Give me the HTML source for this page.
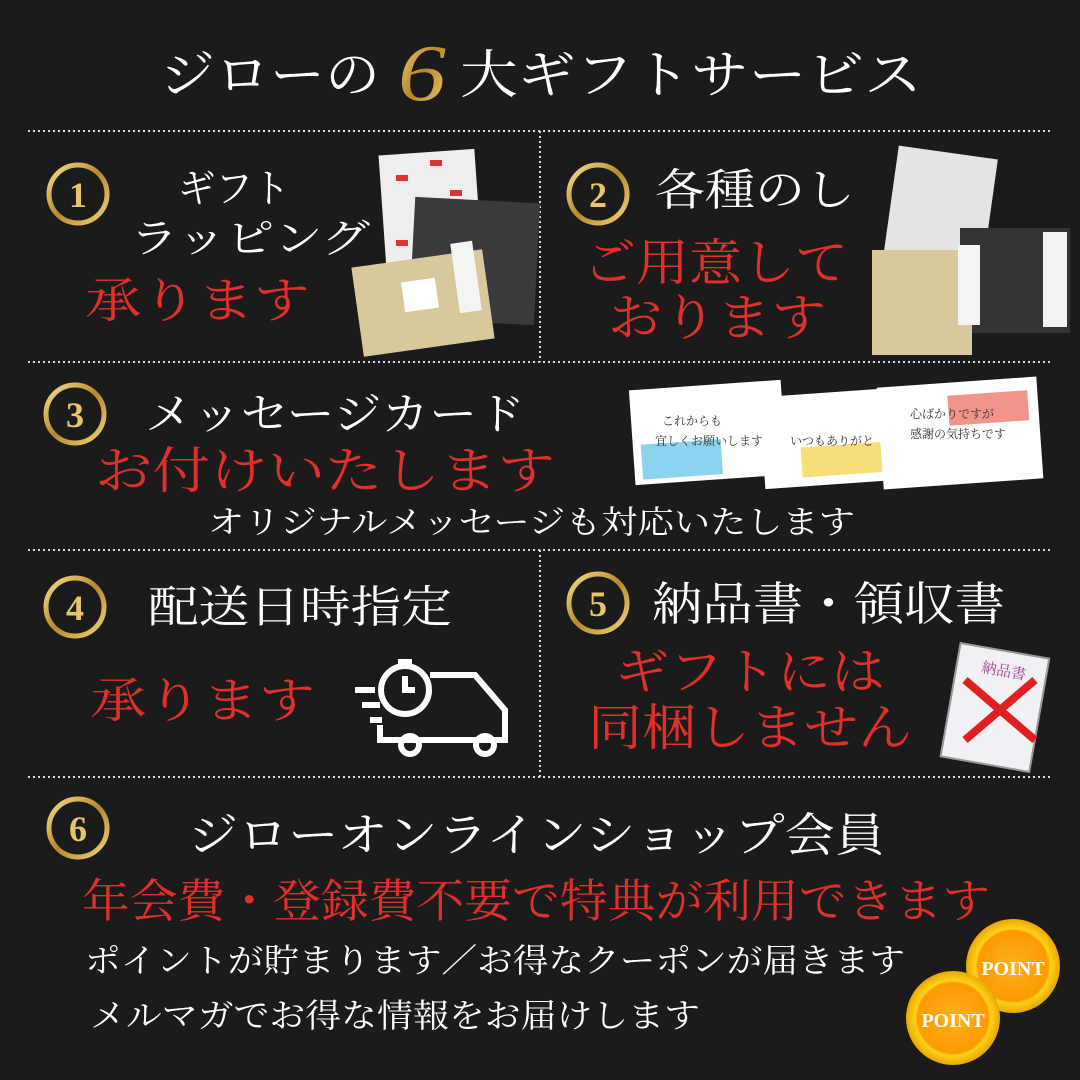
<!DOCTYPE html>
<html><head><meta charset="utf-8"><style>
html,body{margin:0;padding:0;background:#1b1b1b}
svg{display:block}
text{font-family:"Liberation Serif","Noto Serif CJK JP","Noto Serif CJK SC",serif}
</style></head><body>
<svg width="1080" height="1080" viewBox="0 0 1080 1080" xmlns="http://www.w3.org/2000/svg">
<defs>
<linearGradient id="g" x1="0" y1="0" x2="1" y2="1"><stop offset="0" stop-color="#f7e08a"/><stop offset=".5" stop-color="#b8862a"/><stop offset="1" stop-color="#f3d57a"/></linearGradient>
<radialGradient id="c" cx=".5" cy=".5" r=".5"><stop offset="0" stop-color="#ffb020"/><stop offset=".75" stop-color="#ff9a00"/><stop offset=".8" stop-color="#ffd21a"/><stop offset="1" stop-color="#e8a800"/></radialGradient>
</defs>
<rect width="1080" height="1080" fill="#1b1b1b"/>
<g stroke="#ddd" stroke-width="2" stroke-dasharray="2 3">
<line x1="28" y1="131" x2="1050" y2="131"/>
<line x1="28" y1="362" x2="1050" y2="362"/>
<line x1="28" y1="550" x2="1050" y2="550"/>
<line x1="28" y1="777" x2="1050" y2="777"/>
<line x1="540" y1="131" x2="540" y2="362"/>
<line x1="540" y1="550" x2="540" y2="777"/>
</g>
<!-- title -->
<text x="160" y="93" font-size="52" fill="#fff" textLength="220" lengthAdjust="spacingAndGlyphs">ジローの</text>
<text x="398" y="100" font-size="80" font-style="italic" fill="url(#g)" textLength="48" lengthAdjust="spacingAndGlyphs">6</text>
<text x="460" y="93" font-size="52" fill="#fff" textLength="462" lengthAdjust="spacingAndGlyphs">大ギフトサービス</text>
<!-- number circles -->
<g fill="none" stroke="url(#g)" stroke-width="5">
<circle cx="78" cy="194" r="29"/><circle cx="598" cy="194" r="29"/>
<circle cx="75" cy="414" r="29"/><circle cx="75" cy="607" r="29"/>
<circle cx="598" cy="603" r="29"/><circle cx="78" cy="828" r="29"/>
</g>
<g fill="#e9c46a" font-family="Liberation Sans,sans-serif" font-weight="bold" font-size="36" text-anchor="middle">
<text x="78" y="207">1</text><text x="598" y="207">2</text><text x="75" y="427">3</text>
<text x="75" y="620">4</text><text x="598" y="616">5</text><text x="78" y="841">6</text>
</g>
<!-- section 1 -->
<text x="178" y="202" font-size="40" fill="#fff" textLength="112" lengthAdjust="spacingAndGlyphs">ギフト</text>
<text x="130" y="252" font-size="40" fill="#fff" textLength="240" lengthAdjust="spacingAndGlyphs">ラッピング</text>
<text x="85" y="317" font-size="48" fill="#e0302a" textLength="225" lengthAdjust="spacingAndGlyphs">承ります</text>
<rect x="384" y="152" width="96" height="160" fill="#eee" transform="rotate(-4 432 232)"/>
<g fill="#d33"><rect x="396" y="175" width="12" height="6"/><rect x="430" y="160" width="12" height="6"/><rect x="418" y="200" width="12" height="6"/><rect x="396" y="240" width="12" height="6"/><rect x="450" y="190" width="12" height="6"/></g>
<rect x="412" y="200" width="125" height="122" fill="#3a3a3c" transform="rotate(3 474 261)"/>
<rect x="357" y="258" width="132" height="90" fill="#d8c89c" transform="rotate(-8 423 303)"/>
<rect x="455" y="242" width="22" height="70" fill="#f4f4f4" transform="rotate(-8 466 277)"/>
<rect x="403" y="280" width="34" height="30" fill="#fff" transform="rotate(-8 420 295)"/>
<!-- section 2 -->
<text x="655" y="205" font-size="44" fill="#fff" textLength="200" lengthAdjust="spacingAndGlyphs">各種のし</text>
<text x="583" y="280" font-size="50" fill="#e0302a" textLength="265" lengthAdjust="spacingAndGlyphs">ご用意して</text>
<text x="608" y="335" font-size="50" fill="#e0302a" textLength="218" lengthAdjust="spacingAndGlyphs">おります</text>
<rect x="890" y="152" width="100" height="120" fill="#e4e4e4" transform="rotate(8 940 212)"/>
<rect x="960" y="228" width="110" height="105" fill="#333"/>
<rect x="1043" y="232" width="24" height="95" fill="#f2f2f2"/>
<rect x="872" y="250" width="100" height="105" fill="#d8c89c"/>
<rect x="958" y="245" width="22" height="80" fill="#f4f4f4"/>
<!-- section 3 -->
<text x="145" y="429" font-size="44" fill="#fff" textLength="380" lengthAdjust="spacingAndGlyphs">メッセージカード</text>
<text x="95" y="488" font-size="50" fill="#e0302a" textLength="460" lengthAdjust="spacingAndGlyphs">お付けいたします</text>
<text x="208" y="533" font-size="32" fill="#fff" textLength="647" lengthAdjust="spacingAndGlyphs">オリジナルメッセージも対応いたします</text>
<g font-size="12" fill="#333">
<rect x="632" y="385" width="152" height="95" fill="#fff" transform="rotate(-4 708 432)"/>
<rect x="640" y="440" width="80" height="35" fill="#5bc0e8" opacity=".7" transform="rotate(-4 708 432)"/>
<text x="662" y="425">これからも</text><text x="655" y="445">宜しくお願いします</text>
<rect x="762" y="392" width="150" height="92" fill="#fff" transform="rotate(-4 837 438)"/>
<rect x="800" y="445" width="90" height="30" fill="#f4d03f" opacity=".7" transform="rotate(-4 837 438)"/>
<text x="790" y="445">いつもありがと</text>
<rect x="880" y="382" width="160" height="102" fill="#fff" transform="rotate(-4 960 433)"/>
<rect x="950" y="395" width="80" height="30" fill="#e74c3c" opacity=".6" transform="rotate(-4 960 433)"/>
<text x="910" y="418">心ばかりですが</text><text x="910" y="438">感謝の気持ちです</text>
</g>
<!-- section 4 -->
<text x="148" y="622" font-size="44" fill="#fff" textLength="304" lengthAdjust="spacingAndGlyphs">配送日時指定</text>
<text x="90" y="717" font-size="48" fill="#e0302a" textLength="225" lengthAdjust="spacingAndGlyphs">承ります</text>
<g fill="none" stroke="#fff" stroke-width="6">
<circle cx="405" cy="690" r="24"/><path d="M405 676v14h10M398 662h14"/>
<path d="M430 675h45l30 35v30h-125v-15"/>
<circle cx="410" cy="745" r="9"/><circle cx="485" cy="745" r="9"/>
<path d="M355 690h20M362 705h18M370 720h12"/>
</g>
<!-- section 5 -->
<text x="652" y="620" font-size="46" fill="#fff" textLength="353" lengthAdjust="spacingAndGlyphs">納品書・領収書</text>
<text x="615" y="689" font-size="50" fill="#e0302a" textLength="270" lengthAdjust="spacingAndGlyphs">ギフトには</text>
<text x="588" y="745" font-size="50" fill="#e0302a" textLength="324" lengthAdjust="spacingAndGlyphs">同梱しません</text>
<rect x="950" y="650" width="90" height="115" fill="#f1f1f5" stroke="#999" stroke-width="2" transform="rotate(10 995 707)"/>
<text x="975" y="675" font-size="15" fill="#a04090" transform="rotate(10 995 707)">納品書</text>
<path d="M965 680L1035 740M1035 680L965 740" stroke="#e02020" stroke-width="8"/>
<!-- section 6 -->
<text x="188" y="851" font-size="46" fill="#fff" textLength="697" lengthAdjust="spacingAndGlyphs">ジローオンラインショップ会員</text>
<text x="82" y="917" font-size="46" fill="#e0302a" textLength="908" lengthAdjust="spacingAndGlyphs">年会費・登録費不要で特典が利用できます</text>
<text x="85" y="972" font-size="33" fill="#fff" textLength="820" lengthAdjust="spacingAndGlyphs">ポイントが貯まります／お得なクーポンが届きます</text>
<text x="90" y="1027" font-size="33" fill="#fff" textLength="610" lengthAdjust="spacingAndGlyphs">メルマガでお得な情報をお届けします</text>
<circle cx="1013" cy="966" r="47" fill="url(#c)"/>
<text x="1013" y="975" font-size="20" font-family="Liberation Sans,sans-serif" font-weight="bold" fill="#fff" text-anchor="middle">POINT</text>
<circle cx="953" cy="1018" r="47" fill="url(#c)"/>
<text x="953" y="1027" font-size="20" font-family="Liberation Sans,sans-serif" font-weight="bold" fill="#fff" text-anchor="middle">POINT</text>
</svg>
</body></html>
